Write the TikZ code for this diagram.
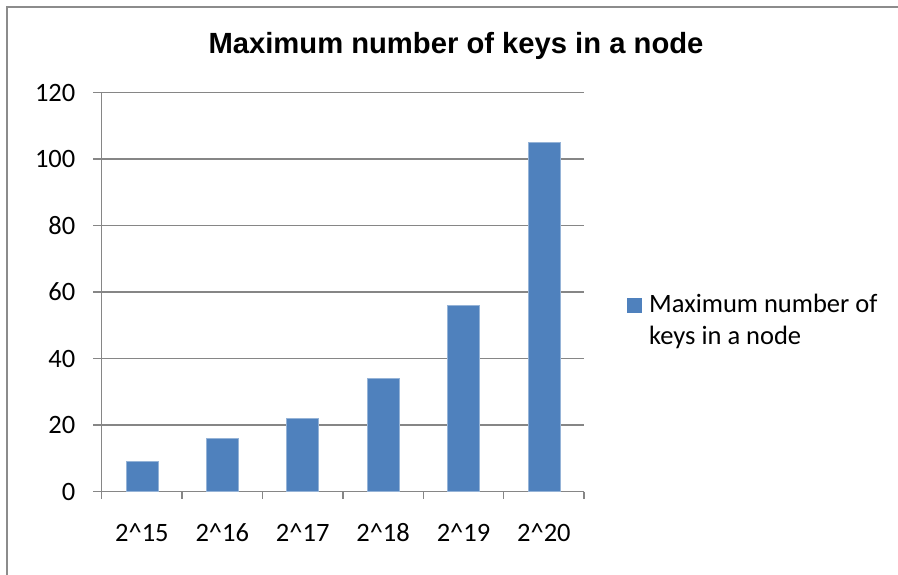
\documentclass[tikz,border=0pt]{standalone}
\usepackage{fontspec}
\setmainfont{Carlito}
\newfontfamily\titlefont{Liberation Sans}
\definecolor{barblue}{HTML}{4F81BD}
\definecolor{axisgray}{HTML}{868686}
\definecolor{framegray}{HTML}{8C8C8C}
\begin{document}
\begin{tikzpicture}[x=1pt,y=-1pt,
  gridline/.style={draw=axisgray,line width=1.4pt},
  barbox/.style={fill=barblue,draw=barblue!60!white,line width=0.6pt},
  ticklabel/.style={font=\fontsize{26.5}{32}\selectfont,inner sep=0pt},
  charttitle/.style={font=\titlefont\fontsize{29.2}{35}\selectfont\bfseries,inner sep=0pt}]
\useasboundingbox (0,0) rectangle (898,575);
% outer chart frame (only top and left edges fall inside the page)
\draw[framegray,line width=1.5pt] (7,580) -- (7,7) -- (905,7);

% title
\node[charttitle,anchor=base] (title) at (456,53.5) {Maximum number of keys in a node};

% horizontal gridlines with their tick marks and value labels
\foreach \v in {0,20,...,120}{
  \pgfmathsetmacro{\yy}{491.5-3.325*\v}
  \draw[gridline] (93,\yy) -- (584,\yy);
  \node[ticklabel,anchor=east] (ylab\v) at (75.5,\yy) {\v};
}
% value axis
\draw[gridline] (101.7,92.5) -- (101.7,491.5);
% category ticks
\foreach \k in {0,...,6}{
  \draw[gridline] ({101.7+80.4*\k},491.5) -- ({101.7+80.4*\k},499);
}

% bars and category labels
\foreach \e/\val [count=\i from 0] in {15/9,16/16,17/22,18/34,19/56,20/105}{
  \pgfmathsetmacro{\cx}{101.7+80.4*(\i+0.5)}
  \pgfmathsetmacro{\top}{491.5-3.325*\val}
  \fill[barbox] ({\cx-16},491.5) rectangle ({\cx+16},\top);
  \node[ticklabel,anchor=base] (xlab\e) at (\cx,541.5) {2\textasciicircum\e};
}

% legend
\fill[barblue] (627.3,298) rectangle (642.3,313);
\node[ticklabel,anchor=base west] (leg1) at (649,312.7) {Maximum number of};
\node[ticklabel,anchor=base west] (leg2) at (649,344) {keys in a node};
\end{tikzpicture}
\end{document}
